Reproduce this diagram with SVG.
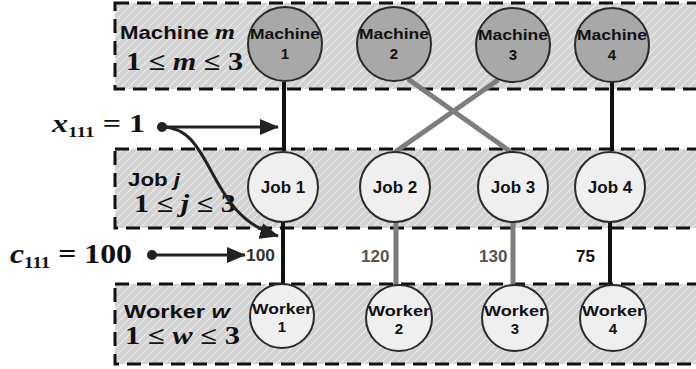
<svg xmlns="http://www.w3.org/2000/svg" width="696" height="369" viewBox="0 0 696 369">
<defs>
<pattern id="hatch" patternUnits="userSpaceOnUse" width="8" height="8">
<rect width="8" height="8" fill="#d2d2d2"/>
<path d="M-2,2 L2,-2 M0,8 L8,0 M6,10 L10,6" stroke="#ececec" stroke-width="1.2"/>
</pattern>
<marker id="ah" viewBox="0 0 19 16" refX="18" refY="8" markerWidth="19" markerHeight="16" orient="auto" markerUnits="userSpaceOnUse">
<path d="M0,0 L19,8 L0,16 Z" fill="#222"/>
</marker>
<style>
.band{fill:url(#hatch);stroke:#111;stroke-width:3;stroke-dasharray:14 8}
.mach{fill:#a8a8a8;stroke:#2a2a2a;stroke-width:2}
.light{fill:#efefef;stroke:#2a2a2a;stroke-width:2}
.ct{font-family:"Liberation Sans",Arial,sans-serif;font-weight:bold;fill:#111;text-anchor:middle}
.lbl{font-family:"Liberation Sans",Arial,sans-serif;font-weight:bold;fill:#111;font-size:19px}
.math{font-family:"Liberation Serif","Times New Roman",serif;font-weight:bold;fill:#111}
.blk{stroke:#111;stroke-width:4;fill:none}
.gry{stroke:#7d7d7d;stroke-width:5;fill:none}
.num{font-family:"Liberation Sans",Arial,sans-serif;font-weight:bold;font-size:17px}
.arr{stroke:#222;stroke-width:3;fill:none;marker-end:url(#ah)}
</style>
</defs>

<g id="bands">
<rect class="band" x="115" y="3" width="600" height="86"/>
<rect class="band" x="115" y="149" width="600" height="79"/>
<rect class="band" x="115" y="284" width="600" height="80"/>
</g>

<g id="band-labels">
<text class="lbl" x="120" y="39" textLength="115" lengthAdjust="spacingAndGlyphs">Machine <tspan class="math" font-style="italic" font-size="22">m</tspan></text>
<text class="math" x="126" y="70" font-size="25" textLength="117" lengthAdjust="spacingAndGlyphs">1 ≤ <tspan font-style="italic">m</tspan> ≤ 3</text>
<text class="lbl" x="128" y="186" textLength="52" lengthAdjust="spacingAndGlyphs">Job <tspan font-style="italic">j</tspan></text>
<text class="math" x="134" y="212" font-size="25" textLength="102" lengthAdjust="spacingAndGlyphs">1 ≤ <tspan font-style="italic">j</tspan> ≤ 3</text>
<text class="lbl" x="124" y="318" textLength="106" lengthAdjust="spacingAndGlyphs">Worker <tspan font-style="italic">w</tspan></text>
<text class="math" x="125" y="344" font-size="25" textLength="115" lengthAdjust="spacingAndGlyphs">1 ≤ <tspan font-style="italic">w</tspan> ≤ 3</text>
</g>

<g id="connectors">
<line class="blk" x1="284" y1="82" x2="284" y2="151"/>
<line class="blk" x1="612" y1="82" x2="612" y2="151"/>
<line class="gry" x1="408" y1="79" x2="511" y2="152"/>
<line class="gry" x1="498" y1="80" x2="395" y2="152"/>
<line class="blk" x1="283" y1="222" x2="283" y2="284"/>
<line class="gry" x1="396" y1="221" x2="396" y2="286"/>
<line class="gry" x1="513" y1="221" x2="513" y2="286"/>
<line class="blk" x1="610" y1="221" x2="610" y2="286"/>
</g>

<g id="cost-labels">
<text class="num" x="246" y="261" font-size="15" fill="#333" textLength="29" lengthAdjust="spacingAndGlyphs">100</text>
<text class="num" x="361" y="262" fill="#555">120</text>
<text class="num" x="479" y="262" fill="#555">130</text>
<text class="num" x="576" y="262" fill="#111">75</text>
</g>

<g id="machine1"><circle class="mach" cx="285" cy="44" r="37"/><text class="ct" x="285" y="39" font-size="15" textLength="70" lengthAdjust="spacingAndGlyphs">Machine</text><text class="ct" x="285" y="59" font-size="15">1</text></g>
<g id="machine2"><circle class="mach" cx="394" cy="44" r="37"/><text class="ct" x="394" y="39" font-size="15" textLength="70" lengthAdjust="spacingAndGlyphs">Machine</text><text class="ct" x="394" y="59" font-size="15">2</text></g>
<g id="machine3"><circle class="mach" cx="513" cy="45" r="37"/><text class="ct" x="513" y="40" font-size="15" textLength="70" lengthAdjust="spacingAndGlyphs">Machine</text><text class="ct" x="513" y="60" font-size="15">3</text></g>
<g id="machine4"><circle class="mach" cx="612" cy="45" r="37"/><text class="ct" x="612" y="40" font-size="15" textLength="70" lengthAdjust="spacingAndGlyphs">Machine</text><text class="ct" x="612" y="60" font-size="15">4</text></g>

<g id="job1"><circle class="light" cx="283" cy="187" r="35"/><text class="ct" x="283" y="193" font-size="17">Job 1</text></g>
<g id="job2"><circle class="light" cx="395" cy="187" r="35"/><text class="ct" x="395" y="193" font-size="17">Job 2</text></g>
<g id="job3"><circle class="light" cx="513" cy="187" r="35"/><text class="ct" x="513" y="193" font-size="17">Job 3</text></g>
<g id="job4"><circle class="light" cx="610" cy="187" r="35"/><text class="ct" x="610" y="193" font-size="17">Job 4</text></g>

<g id="worker1"><circle class="light" cx="282" cy="316" r="32"/><text class="ct" x="282" y="314" font-size="15" textLength="60" lengthAdjust="spacingAndGlyphs">Worker</text><text class="ct" x="282" y="332" font-size="15">1</text></g>
<g id="worker2"><circle class="light" cx="399" cy="318" r="33"/><text class="ct" x="399" y="316" font-size="15" textLength="62" lengthAdjust="spacingAndGlyphs">Worker</text><text class="ct" x="399" y="334" font-size="15">2</text></g>
<g id="worker3"><circle class="light" cx="515" cy="318" r="33"/><text class="ct" x="515" y="316" font-size="15" textLength="62" lengthAdjust="spacingAndGlyphs">Worker</text><text class="ct" x="515" y="334" font-size="15">3</text></g>
<g id="worker4"><circle class="light" cx="613" cy="318" r="33"/><text class="ct" x="613" y="316" font-size="15" textLength="62" lengthAdjust="spacingAndGlyphs">Worker</text><text class="ct" x="613" y="334" font-size="15">4</text></g>

<g id="annotations">
<text class="math" x="52" y="132" font-size="25" textLength="93" lengthAdjust="spacingAndGlyphs"><tspan font-style="italic">x</tspan><tspan font-size="15" dy="5">111</tspan><tspan dy="-5"> = 1</tspan></text>
<circle cx="162" cy="127" r="5" fill="#222"/>
<line class="arr" x1="162" y1="127" x2="278" y2="127"/>
<path class="arr" d="M162,127 C215,127 205,215 278,236"/>
<text class="math" x="10" y="263" font-size="27" textLength="122" lengthAdjust="spacingAndGlyphs"><tspan font-style="italic">c</tspan><tspan font-size="16" dy="5">111</tspan><tspan dy="-5"> = 100</tspan></text>
<circle cx="152" cy="255" r="5" fill="#222"/>
<line class="arr" x1="152" y1="255" x2="245" y2="255"/>
</g>
</svg>
